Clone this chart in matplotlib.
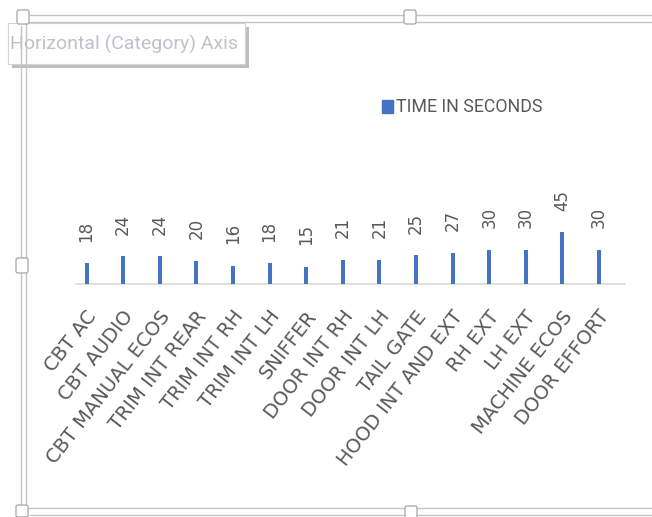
import numpy as np
import matplotlib
matplotlib.use("Agg")
import matplotlib.pyplot as plt
from matplotlib.patches import Rectangle, FancyBboxPatch
from matplotlib.transforms import ScaledTranslation

categories = ["CBT AC", "CBT AUDIO", "CBT MANUAL ECOS", "TRIM INT REAR",
              "TRIM INT RH", "TRIM INT LH", "SNIFFER", "DOOR INT RH",
              "DOOR INT LH", "TAIL GATE", "HOOD INT AND EXT", "RH EXT",
              "LH EXT", "MACHINE ECOS", "DOOR EFFORT"]
seconds = [18, 24, 24, 20, 16, 18, 15, 21, 21, 25, 27, 30, 30, 45, 30]
series_name = "TIME IN SECONDS"
tooltip_text = "Horizontal (Category) Axis"

BLUE = "#4472C4"
GRAY = "#595959"
NARROW = ["Roboto", "DejaVu Sans"]

W, H = 652, 517
fig = plt.figure(figsize=(W / 100, H / 100), dpi=100)


def fx(px):
    return px / W


def fy(py):
    return 1 - py / H


# plot area
ax = fig.add_axes([fx(76), fy(284), (625 - 76) / W, (284 - 180) / H])
x = np.arange(len(categories))
ax.bar(x - 0.21, seconds, width=0.11, color=BLUE, zorder=3)
ax.set_xlim(-0.5, len(categories) - 0.5)
ax.set_ylim(0, 104 / 1.15)

for s in ("top", "right", "left"):
    ax.spines[s].set_visible(False)
ax.spines["bottom"].set_color("#d9d9d9")
ax.spines["bottom"].set_linewidth(1.2)
ax.set_yticks([])
ax.set_xticks([])

# value labels
for xi, v in zip(x - 0.21, seconds):
    ax.annotate(str(v), (xi, v), xytext=(0, 15.5), textcoords="offset points",
                rotation=90, ha="center", va="bottom", fontsize=12, color=GRAY)

# category labels
lab_tr = ax.get_xaxis_transform() + ScaledTranslation(-0.01, -0.29, fig.dpi_scale_trans)
for xi, name in zip(x, categories):
    ax.text(xi, 0, name, transform=lab_tr, rotation=52, rotation_mode="anchor",
            ha="right", va="center", fontsize=14, color=GRAY)

# legend
fig.patches.append(Rectangle((fx(382), fy(113)), 11 / W, 13 / H,
                             transform=fig.transFigure, color=BLUE))
fig.text(fx(396), fy(106.5), series_name, ha="left", va="center",
         fontsize=12.8, family=NARROW, color=GRAY)

# chart-area selection frame and tooltip
ov = fig.add_axes([0, 0, 1, 1], zorder=5)
ov.set_xlim(0, W)
ov.set_ylim(H, 0)
ov.axis("off")
ov.patch.set_alpha(0)

ov.add_patch(Rectangle((12, 27), 237, 41, color="#8a8a8a", alpha=0.55, lw=0, zorder=1))
ov.add_patch(Rectangle((8, 23), 237, 41, facecolor="white", edgecolor="#d4d4d4",
                       lw=0.8, zorder=2))
ov.text(10, 44, tooltip_text, ha="left", va="center", fontsize=14,
        family=NARROW, color="#bcc2cc", zorder=3)

LC = "#c4c4c4"
lw = 1.0
ov.plot([28, W], [15, 15], color=LC, lw=lw, zorder=4)
ov.plot([26, W], [22, 22], color=LC, lw=lw, zorder=4)
ov.plot([21, 21], [26, 505], color=LC, lw=lw, zorder=4)
ov.plot([26, 26], [22, 508], color=LC, lw=lw, zorder=4)
ov.plot([26, W], [508, 508], color=LC, lw=lw, zorder=4)
ov.plot([30, W], [515, 515], color=LC, lw=lw, zorder=4)

for hx, hy, hw, hh in [(17, 10, 12, 14), (404, 10, 12, 14), (16, 258, 12, 15),
                       (16, 505, 12, 12), (405, 506, 12, 12)]:
    ov.add_patch(FancyBboxPatch((hx, hy), hw, hh,
                                boxstyle="round,pad=0,rounding_size=2",
                                facecolor="white", edgecolor="#a6a6a6",
                                lw=0.9, zorder=5))

fig.savefig("out.png", dpi=100)
